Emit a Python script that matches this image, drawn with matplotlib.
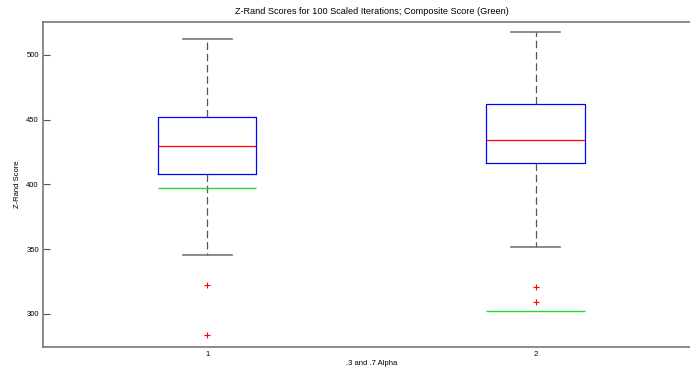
import numpy as np
import matplotlib
matplotlib.use("Agg")
import matplotlib.pyplot as plt

# values
groups = [1, 2]
tick_labels = ["1", "2"]
medians = [430, 434.5]
q1 = [408, 416.5]
q3 = [452, 462]
whisk_lo = [345.5, 351.5]
whisk_hi = [512, 517.5]
outliers = [[322.5, 283.5], [320.5, 309.5]]
composite = [397.5, 302]   # green composite score lines

plt.rcParams['font.family'] = ['Liberation Sans', 'DejaVu Sans']
plt.rcParams['font.size'] = 5.5

fig = plt.figure(figsize=(6.9, 3.75), dpi=100)
ax = fig.add_axes([0.0623, 0.0747, 0.952, 0.8667])

stats = []
for i in range(len(groups)):
    stats.append(dict(med=medians[i], q1=q1[i], q3=q3[i],
                      whislo=whisk_lo[i], whishi=whisk_hi[i],
                      fliers=outliers[i]))

ax.bxp(stats, positions=groups, widths=0.3, showfliers=True,
       boxprops=dict(color='#0000ff', lw=0.9),
       medianprops=dict(color='#ff0000', lw=0.9),
       whiskerprops=dict(color='#555555', lw=0.9, ls=(0, (6, 3))),
       capprops=dict(color='#777777', lw=1.2),
       capwidths=0.15,
       flierprops=dict(marker='+', markeredgecolor='#ff0000',
                       markersize=4, mew=0.8, ls='none'))

ax.hlines(composite, [g - 0.15 for g in groups], [g + 0.15 for g in groups],
          colors='#22dd22', lw=1.0)

ax.set_xlim(0.5, 2.5)
ax.set_ylim(274.5, 525.5)
ax.set_xticks(groups)
ax.set_xticklabels(tick_labels)
ax.set_yticks([300, 350, 400, 450, 500])
ax.tick_params(axis='y', direction='in', length=5, color='#555555', pad=3)
ax.tick_params(axis='x', length=0, pad=3)
for s in ax.spines.values():
    s.set_color('#777777')
    s.set_linewidth(1.2)

ax.set_title("Z-Rand Scores for 100 Scaled Iterations; Composite Score (Green)", pad=6)
ax.set_ylabel("Z-Rand Score", labelpad=4)
ax.set_xlabel(".3 and .7 Alpha", labelpad=1)

fig.savefig("out.png", dpi=100)
